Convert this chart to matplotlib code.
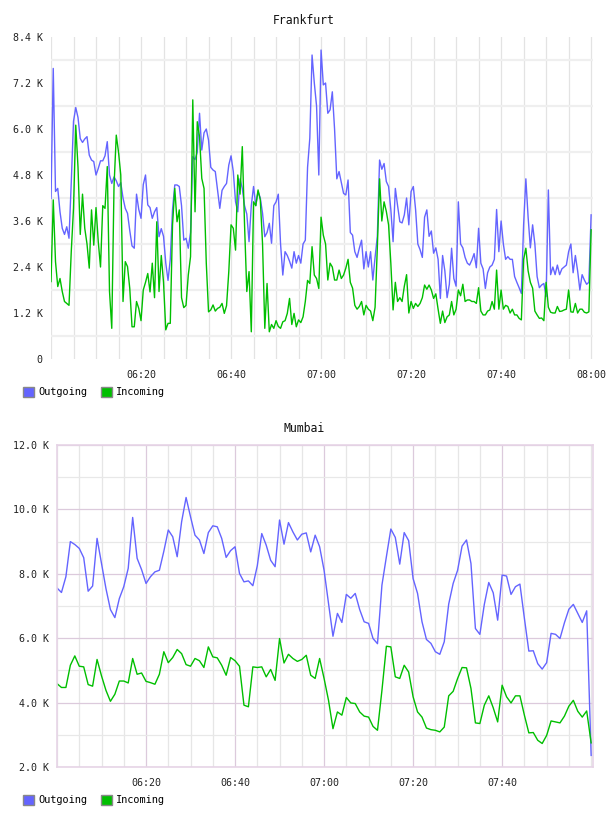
import numpy as np
import matplotlib.pyplot as plt
import matplotlib.dates as mdates
from matplotlib.patches import Patch
from matplotlib.ticker import FixedLocator, FuncFormatter

# Frankfurt, one sample every 30 s from 06:00 (values in K)
fra_out = [4.19, 7.58, 4.37, 4.45, 3.84, 3.41, 3.25, 3.45, 3.15, 4.6,
           6.2, 6.56, 6.3, 5.75, 5.65, 5.74, 5.8, 5.32, 5.19, 5.15,
           4.8, 4.97, 5.17, 5.17, 5.3, 5.67, 4.8, 4.58, 4.75, 4.65,
           4.5, 4.6, 4.2, 3.93, 3.8, 3.35, 2.95, 2.89, 4.3, 3.9,
           3.67, 4.55, 4.8, 4.02, 3.95, 3.67, 3.84, 3.95, 3.19, 3.4,
           3.2, 2.5, 2.05, 2.6, 3.9, 4.54, 4.54, 4.5, 4.0, 3.1,
           3.15, 2.89, 3.3, 5.28, 5.2, 5.4, 6.41, 5.45, 5.9, 6.0,
           5.71, 5.0, 4.93, 4.89, 4.4, 3.93, 4.4, 4.5, 4.58, 5.06,
           5.3, 4.89, 4.1, 3.84, 4.7, 4.45, 4.0, 3.78, 3.06, 4.0,
           4.5, 4.0, 4.37, 4.2, 3.8, 3.19, 3.3, 3.54, 3.02, 4.0,
           4.1, 4.3, 3.0, 2.19, 2.8, 2.7, 2.55, 2.37, 2.8, 2.5,
           2.7, 2.5, 3.0, 3.1, 5.0, 5.76, 7.93, 7.2, 6.6, 4.8,
           8.06, 7.15, 7.2, 6.41, 6.5, 6.97, 6.0, 4.7, 4.89, 4.6,
           4.32, 4.28, 4.67, 3.3, 3.23, 2.8, 2.65, 2.89, 3.1, 2.35,
           2.8, 2.4, 2.8, 2.06, 2.65, 3.2, 5.19, 4.95, 5.1, 4.63,
           4.5, 3.9, 3.06, 4.45, 4.0, 3.58, 3.55, 3.76, 4.2, 3.5,
           4.37, 4.5, 3.9, 3.0, 2.85, 2.65, 3.7, 3.89, 3.2, 3.34,
           2.76, 2.9, 2.6, 1.58, 2.7, 2.3, 1.6, 1.95, 2.89, 2.1,
           1.9, 4.1, 3.0, 2.9, 2.65, 2.5, 2.45, 2.58, 2.75, 2.38,
           3.41, 2.5, 2.35, 1.84, 2.25, 2.4, 2.45, 2.6, 3.9, 2.8,
           3.6, 3.0, 2.6, 2.67, 2.6, 2.6, 2.15, 2.0, 1.86, 1.71,
           3.5, 4.7, 3.7, 2.9, 3.5, 3.0, 2.15, 1.86, 1.93, 1.97,
           1.63, 4.41, 2.2, 2.4, 2.2, 2.45, 2.2, 2.35, 2.4, 2.45,
           2.8, 3.0, 2.25, 2.7, 2.3, 1.8, 2.2, 2.06, 1.95, 2.0, 3.76]
fra_in = [2.02, 4.15, 2.54, 1.89, 2.1, 1.76, 1.5, 1.45, 1.4, 2.8,
          3.93, 6.1, 5.0, 3.25, 4.3, 3.41, 3.0, 2.37, 3.89, 2.97,
          3.95, 3.06, 2.4, 4.0, 3.93, 5.02, 1.76, 0.8, 4.5, 5.84,
          5.4, 4.8, 1.5, 2.54, 2.41, 1.84, 0.84, 0.84, 1.5, 1.32,
          1.0, 1.8, 2.0, 2.23, 1.75, 2.5, 1.6, 3.58, 1.76, 2.7,
          2.0, 0.76, 0.93, 0.93, 3.5, 4.45, 3.58, 3.89, 1.6, 1.34,
          1.4, 2.19, 2.67, 6.76, 3.84, 6.19, 5.8, 4.71, 4.45, 2.5,
          1.23, 1.28, 1.41, 1.25, 1.32, 1.35, 1.45, 1.19, 1.39, 2.28,
          3.5, 3.41, 2.84, 4.8, 4.3, 5.54, 3.5, 1.76, 2.28, 0.71,
          4.1, 4.0, 4.41, 4.15, 3.0, 0.8, 1.97, 0.71, 0.9, 0.8,
          1.0, 0.85, 0.8, 0.97, 1.0, 1.19, 1.58, 0.9, 1.19, 0.84,
          1.02, 0.95, 1.1, 1.5, 2.05, 1.97, 2.93, 2.19, 2.1, 1.84,
          3.7, 3.23, 3.0, 2.06, 2.5, 2.4, 2.06, 2.06, 2.32, 2.1,
          2.19, 2.37, 2.6, 2.0, 1.85, 1.4, 1.3, 1.37, 1.5, 1.15,
          1.4, 1.3, 1.25, 1.0, 1.35, 2.9, 4.7, 3.6, 4.1, 3.85,
          3.5, 2.5, 1.28, 2.0, 1.5, 1.6, 1.5, 1.9, 2.2, 1.2,
          1.5, 1.32, 1.45, 1.37, 1.45, 1.6, 1.93, 1.82, 1.93, 1.8,
          1.58, 1.7, 1.3, 0.93, 1.25, 0.95, 1.1, 1.15, 1.5, 1.15,
          1.3, 1.8, 1.65, 1.95, 1.5, 1.54, 1.54, 1.5, 1.5, 1.45,
          1.86, 1.25, 1.15, 1.15, 1.25, 1.28, 1.5, 1.3, 2.32, 1.3,
          1.8, 1.3, 1.4, 1.37, 1.2, 1.3, 1.15, 1.15, 1.06, 1.02,
          2.6, 2.89, 2.3, 2.0, 1.85, 1.25, 1.15, 1.06, 1.07, 1.0,
          2.0, 1.35, 1.22, 1.2, 1.2, 1.37, 1.24, 1.25, 1.28, 1.3,
          1.8, 1.23, 1.22, 1.45, 1.2, 1.3, 1.3, 1.22, 1.2, 1.23, 3.37]

# Mumbai, one sample per minute from 06:00 (values in K)
mum_out = [7.56, 7.42, 7.91, 9.0, 8.91, 8.79, 8.5, 7.46, 7.62, 9.1,
           8.32, 7.54, 6.89, 6.64, 7.23, 7.6, 8.17, 9.75, 8.48, 8.13,
           7.7, 7.91, 8.06, 8.11, 8.7, 9.36, 9.15, 8.53, 9.62, 10.37,
           9.77, 9.2, 9.05, 8.63, 9.28, 9.49, 9.46, 9.1, 8.51, 8.72,
           8.84, 8.01, 7.75, 7.78, 7.63, 8.25, 9.25, 8.89, 8.42, 8.22,
           9.67, 8.92, 9.59, 9.3, 9.05, 9.23, 9.27, 8.68, 9.2, 8.84,
           8.11, 7.08, 6.06, 6.77, 6.49, 7.36, 7.24, 7.39, 6.89, 6.51,
           6.46, 5.99, 5.83, 7.65, 8.53, 9.39, 9.13, 8.3, 9.28, 9.03,
           7.85, 7.39, 6.51, 5.96, 5.84, 5.58, 5.5, 5.89, 7.06, 7.7,
           8.11, 8.86, 9.05, 8.32, 6.3, 6.12, 7.05, 7.73, 7.41, 6.56,
           7.96, 7.93, 7.36, 7.6, 7.68, 6.62, 5.6, 5.61, 5.21, 5.04,
           5.24, 6.15, 6.12, 5.99, 6.48, 6.9, 7.05, 6.77, 6.49, 6.85, 2.36]
mum_in = [4.59, 4.47, 4.47, 5.16, 5.45, 5.13, 5.11, 4.56, 4.51, 5.34,
          4.83, 4.38, 4.04, 4.26, 4.67, 4.67, 4.61, 5.37, 4.88, 4.92,
          4.66, 4.62, 4.57, 4.88, 5.58, 5.24, 5.4, 5.65, 5.52, 5.18,
          5.13, 5.37, 5.3, 5.09, 5.73, 5.42, 5.39, 5.16, 4.85, 5.4,
          5.3, 5.13, 3.92, 3.87, 5.11, 5.09, 5.11, 4.8, 5.03, 4.69,
          5.99, 5.23, 5.5, 5.37, 5.28, 5.34, 5.47, 4.85, 4.75, 5.37,
          4.75, 4.07, 3.19, 3.71, 3.61, 4.16, 3.99, 3.97, 3.71, 3.58,
          3.55, 3.26, 3.14, 4.38, 5.75, 5.73, 4.8, 4.75, 5.16, 4.95,
          4.18, 3.71, 3.55, 3.21, 3.16, 3.14, 3.09, 3.24, 4.21, 4.35,
          4.75, 5.09, 5.08, 4.44, 3.37, 3.35, 3.92, 4.21, 3.84, 3.4,
          4.54, 4.18, 3.99, 4.21, 4.21, 3.61, 3.06, 3.07, 2.83, 2.73,
          2.98, 3.43, 3.4, 3.37, 3.58, 3.89, 4.07, 3.73, 3.55, 3.74, 2.75]

fra_xticks = ['06:20', '06:40', '07:00', '07:20', '07:40', '08:00']
mum_xticks = ['06:20', '06:40', '07:00', '07:20', '07:40']
fra_yticks = [0, 1.2, 2.4, 3.6, 4.8, 6.0, 7.2, 8.4]
mum_yticks = [2, 4, 6, 8, 10, 12]

day = '2020-05-14T'
t0 = np.datetime64(day + '06:00')
fra_t = t0 + np.arange(len(fra_out)) * np.timedelta64(30, 's')
mum_t = t0 + np.arange(len(mum_out)) * np.timedelta64(60, 's')

blue = '#6464ff'
green = '#00bf00'
mono = 'DejaVu Sans Mono'


def kfmt(v, pos):
    if v == 0:
        return '0'
    return '%.1f K' % v


def setup(ax, xticks, yticks):
    ax.set_xlim(mdates.date2num(t0), mdates.date2num(np.datetime64(day + '08:00:25')))
    ax.set_ylim(yticks[0], yticks[-1])
    ax.set_xticks([mdates.date2num(np.datetime64(day + s)) for s in xticks])
    ax.xaxis.set_major_formatter(mdates.DateFormatter('%H:%M'))
    ax.xaxis.set_minor_locator(mdates.MinuteLocator(byminute=range(0, 60, 5)))
    ax.set_yticks(yticks)
    ax.yaxis.set_major_formatter(FuncFormatter(kfmt))
    ax.tick_params(which='both', length=0)
    ax.tick_params(labelsize=7.2, colors='#222222')
    ax.tick_params(axis='x', pad=8)
    ax.tick_params(axis='y', pad=6)
    for lab in ax.get_xticklabels() + ax.get_yticklabels():
        lab.set_family(mono)
    ax.set_axisbelow(True)


def legend(y):
    hs = [Patch(facecolor=blue, edgecolor='#888888', label='Outgoing'),
          Patch(facecolor=green, edgecolor='#888888', label='Incoming')]
    fig.legend(handles=hs, loc='center left', bbox_to_anchor=(23 / 608, 1 - y / 816),
               ncol=2, frameon=False, handlelength=1.1, handleheight=1.1,
               handletextpad=0.4, columnspacing=1.3, borderpad=0, borderaxespad=0,
               prop={'family': mono, 'size': 7.4})


fig = plt.figure(figsize=(6.08, 8.16), dpi=100)

# Frankfurt
ax1 = fig.add_axes([51 / 608, 1 - 359 / 816, 542 / 608, 322 / 816])
setup(ax1, fra_xticks, fra_yticks)
ax1.yaxis.set_minor_locator(FixedLocator([0.6, 1.8, 3.0, 4.2, 5.4, 6.6, 7.8]))
ax1.xaxis.grid(True, which='both', color='#e3e3e3', lw=0.9)
ax1.yaxis.grid(True, which='minor', color='#efefef', lw=1.6)
for s in ax1.spines.values():
    s.set_visible(False)
ax1.plot(mdates.date2num(fra_t), fra_out, color=blue, lw=1.0)
ax1.plot(mdates.date2num(fra_t), fra_in, color=green, lw=1.0)
fig.text(304 / 608, 1 - 20 / 816, 'Frankfurt', ha='center', va='center',
         family=mono, fontsize=8.3, color='#111111')
legend(392)

# Mumbai
ax2 = fig.add_axes([57 / 608, 1 - 767 / 816, 536 / 608, 322 / 816])
setup(ax2, mum_xticks, mum_yticks)
ax2.yaxis.set_minor_locator(FixedLocator([3, 5, 7, 9, 11]))
ax2.xaxis.grid(True, which='major', color='#dccadc', lw=0.9)
ax2.xaxis.grid(True, which='minor', color='#e6e6e6', lw=0.9)
ax2.yaxis.grid(True, which='major', color='#dccadc', lw=0.9)
ax2.yaxis.grid(True, which='minor', color='#e8e8e8', lw=0.9)
for s in ax2.spines.values():
    s.set_color('#e6d4e6')
    s.set_linewidth(1.2)
ax2.plot(mdates.date2num(mum_t), mum_out, color=blue, lw=1.0)
ax2.plot(mdates.date2num(mum_t), mum_in, color=green, lw=1.0)
fig.text(304 / 608, 1 - 428 / 816, 'Mumbai', ha='center', va='center',
         family=mono, fontsize=8.3, color='#111111')
legend(800)

fig.savefig('out.png', dpi=100)
